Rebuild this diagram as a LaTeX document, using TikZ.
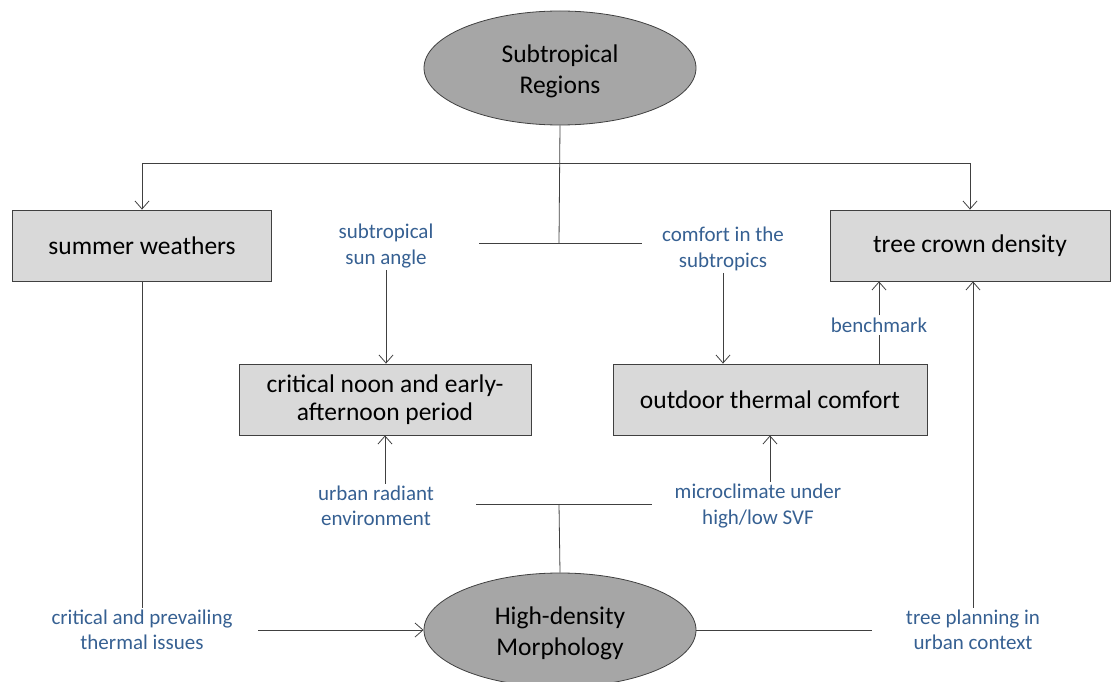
\documentclass[tikz,border=0pt]{standalone}
\usepackage{fontspec}
\setmainfont{Carlito}
\usetikzlibrary{arrows.meta,shapes.geometric}
\definecolor{lblue}{HTML}{366092}
\definecolor{boxgray}{HTML}{D9D9D9}
\definecolor{ellgray}{HTML}{A6A6A6}
\definecolor{linegray}{HTML}{404040}
\tikzset{
  ell/.style={ellipse,draw=linegray,fill=ellgray,minimum width=272pt,minimum height=114pt,align=center,font=\fontsize{25.5}{31}\selectfont,line width=0.8pt,inner sep=0pt},
  box/.style={rectangle,draw=linegray,fill=boxgray,minimum height=71pt,align=center,font=\fontsize{25.5}{28}\selectfont,line width=0.8pt},
  lbl/.style={text=lblue,align=center,font=\fontsize{21}{25.5}\selectfont,inner sep=2pt},
  conn/.style={draw=linegray,line width=0.8pt},
  arr/.style={conn,-{Straight Barb[length=8pt,width=14pt]}}
}
\begin{document}
\begin{tikzpicture}[x=1pt,y=-1pt]
\useasboundingbox (0,0) rectangle (1111,682);
% nodes
\node[ell] (top) at (560,68) {\begin{tabular}{@{}c@{}}\rule{0pt}{30pt}Subtropical\\Regions\end{tabular}};
\node[ell] (hd) at (560,630) {\begin{tabular}{@{}c@{}}\rule{0pt}{30pt}High-density\\Morphology\end{tabular}};
\node[box,minimum width=259pt] (sw) at (142,245.5) {summer weathers};
\node[box,minimum width=280pt] (tc) at (970,245.5) {tree crown density};
\node[box,minimum width=292pt] (cn) at (385,399.5) {critical noon and early-\\afternoon period};
\node[box,minimum width=314pt] (otc) at (770,399.5) {outdoor thermal comfort};
\node[lbl] (sa) at (386,246) {subtropical\\sun angle};
\node[lbl] (cs) at (723,249) {comfort in the\\subtropics};
\node[lbl] (bm) at (879,325) {benchmark};
\node[lbl] (ur) at (376,506) {urban radiant\\environment};
\node[lbl] (mc) at (758,506) {microclimate under\\high/low SVF};
\node[lbl] (cp) at (142,630) {critical and prevailing\\thermal issues};
\node[lbl] (tp) at (973,630) {tree planning in\\urban context};
% junction coordinates
\coordinate (j1) at (559,163);
\coordinate (j2) at (559,243);
\coordinate (j2l) at (479,243);
\coordinate (j2r) at (642,243);
\coordinate (j3) at (559,504);
\coordinate (j3l) at (476,504);
\coordinate (j3r) at (652,504);
\coordinate (tpl) at (872,630);
\coordinate (cpr) at (258,630);
% connectors from top
\draw[conn] (top.south) -- (j2);
\draw[conn] (j2l) -- (j2r);
\draw[arr] (j1) -| (sw.north);
\draw[arr] (j1) -| (tc.north);
\draw[arr] (sa.south) -- (sa.south |- cn.north);
\draw[arr] (cs.south) -- (cs.south |- otc.north);
\draw[conn] (bm.south |- otc.north) -- (bm.south);
\draw[arr] (bm.north) -- (bm.north |- tc.south);
% connectors from bottom
\draw[conn] (hd.north) -- (j3);
\draw[conn] (j3l) -- (j3r);
\draw[arr] (cn.south |- ur.north) -- (cn.south);
\draw[arr] (otc.south |- mc.north) -- (otc.south);
\draw[conn] (sw.south) -- (cp.north);
\draw[arr] (cpr) -- (hd.west);
\draw[conn] (hd.east) -- (tpl);
\draw[arr] (tp.north) -- (tp.north |- tc.south);
\end{tikzpicture}
\end{document}
